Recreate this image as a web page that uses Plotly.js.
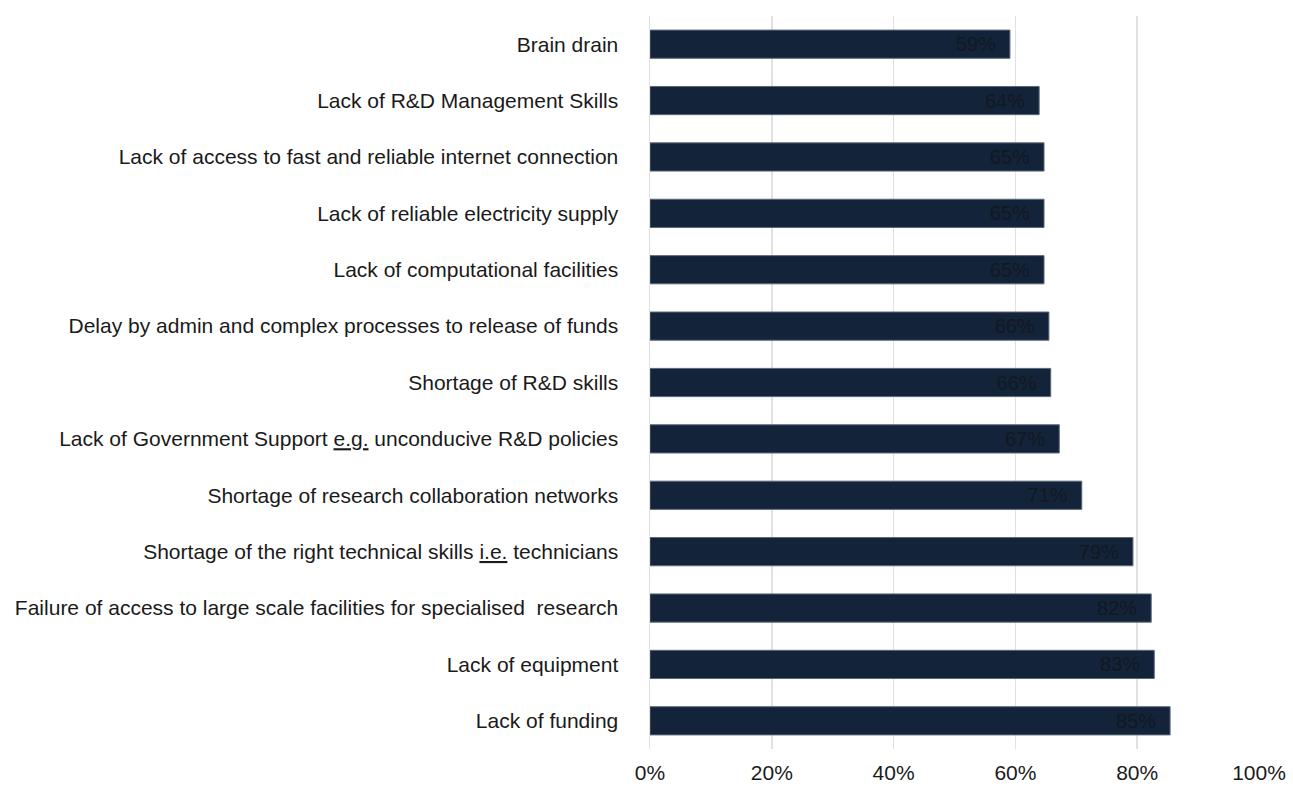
<!DOCTYPE html>
<html><head><meta charset="utf-8">
<script src="https://cdn.plot.ly/plotly-3.0.1.min.js"></script>
<style>html,body{margin:0;padding:0;background:#fff;}#chart{width:1293px;height:787px;}</style>
</head><body><div id="chart"></div>
<script>
const categories = [
  "Brain drain",
  "Lack of R&D Management Skills",
  "Lack of access to fast and reliable internet connection",
  "Lack of reliable electricity supply",
  "Lack of computational facilities",
  "Delay by admin and complex processes to release of funds",
  "Shortage of R&D skills",
  "Lack of Government Support <span style=\"text-decoration:underline;text-decoration-color:#4472c4\">e.g.</span> unconducive R&D policies",
  "Shortage of research collaboration networks",
  "Shortage of the right technical skills <span style=\"text-decoration:underline;text-decoration-color:#4472c4\">i.e.</span> technicians",
  "Failure of access to large scale facilities for specialised  research",
  "Lack of equipment",
  "Lack of funding"
];
const values = [59.1, 63.9, 64.7, 64.7, 64.7, 65.5, 65.8, 67.2, 70.9, 79.3, 82.3, 82.8, 85.4];
const labels = ["59%","64%","65%","65%","65%","66%","66%","67%","71%","79%","82%","83%","85%"];
const xTicks = [0,20,40,60,80,100];
const xTickText = ["0%","20%","40%","60%","80%","100%"];

const trace = {
  type: "bar",
  orientation: "h",
  y: categories,
  x: values,
  text: labels.map(s => s + "\u00a0\u00a0"),
  textposition: "inside",
  insidetextanchor: "end",
  textfont: {family: "Liberation Sans, Arial, sans-serif", size: 20, color: "#121821"},
  marker: {color: "#13233a", line: {color: "#5b6677", width: 1}},
  hoverinfo: "none"
};

const layout = {
  width: 1293, height: 787,
  margin: {l: 650, r: 34, t: 16, b: 38},
  paper_bgcolor: "#fff", plot_bgcolor: "#fff",
  bargap: 0.5,
  showlegend: false,
  font: {family: "Liberation Sans, Arial, sans-serif", size: 21, color: "#1a1a1a"},
  xaxis: {
    range: [0, 100], tickvals: xTicks, ticktext: xTickText,
    showgrid: true, gridcolor: "#dfe1e6", gridwidth: 1.5,
    zeroline: false, showline: false, ticks: "",
    ticklabelstandoff: 9,
    tickfont: {size: 21, color: "#1a1a1a"}, fixedrange: true
  },
  yaxis: {
    autorange: "reversed", showgrid: false, zeroline: false,
    showline: true, linecolor: "#dfe1e6", linewidth: 1.5,
    ticks: "", ticklabelstandoff: 26,
    tickfont: {size: 21, color: "#1a1a1a"}, fixedrange: true
  }
};

Plotly.newPlot("chart", [trace], layout, {displayModeBar: false, staticPlot: true});
</script>
</body></html>
